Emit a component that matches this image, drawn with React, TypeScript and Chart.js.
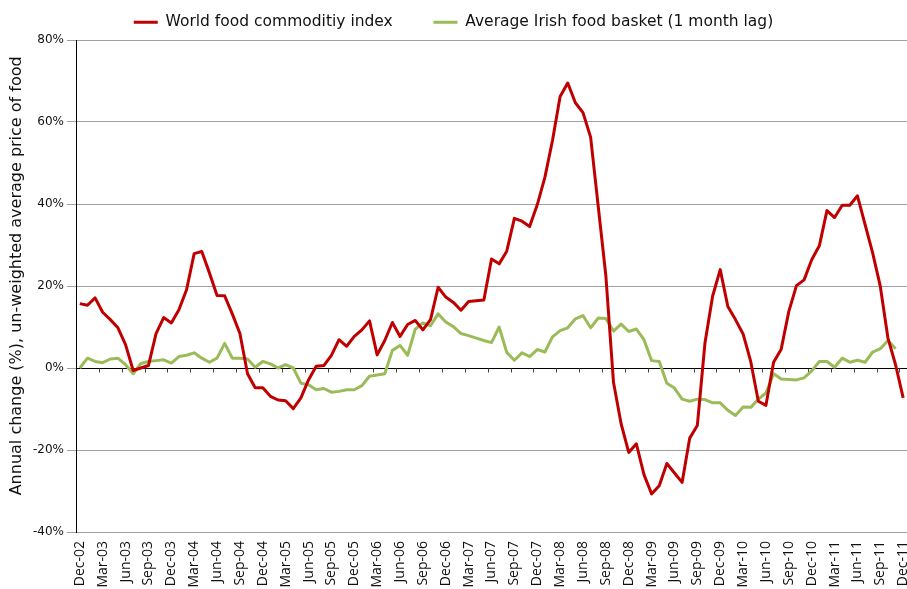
import { useEffect, useRef } from 'react';
import { Chart, registerables } from 'chart.js';

Chart.register(...registerables);

const MONTHS = ['Jan', 'Feb', 'Mar', 'Apr', 'May', 'Jun', 'Jul', 'Aug', 'Sep', 'Oct', 'Nov', 'Dec'];
const START_MONTH = 11; // Dec
const START_YEAR = 2002;
const N_MONTHS = 109; // Dec-02 .. Dec-11

const categories: string[] = [];
for (let i = 0; i < N_MONTHS; i++) {
  const m = (START_MONTH + i) % 12;
  const y = START_YEAR + Math.floor((START_MONTH + i) / 12);
  categories.push(`${MONTHS[m]}-${String(y % 100).padStart(2, '0')}`);
}

const worldFoodIndex: number[] = [
  15.7, 15.3, 17.1, 13.6, 11.8, 9.8, 5.7, -0.6, 0.0, 0.6, 8.4, 12.3,
  11.0, 14.2, 19.1, 27.9, 28.4, 23.2, 17.7, 17.6, 13.2, 8.4, -1.4, -4.8,
  -4.8, -6.9, -7.8, -8.0, -9.9, -7.3, -2.9, 0.4, 0.6, 3.1, 6.9, 5.3,
  7.7, 9.3, 11.5, 3.2, 6.7, 11.1, 7.7, 10.6, 11.6, 9.3, 11.8, 19.7,
  17.3, 16.0, 14.1, 16.2, 16.4, 16.6, 26.6, 25.4, 28.5, 36.5, 35.8, 34.5,
  39.8, 46.5, 55.5, 66.2, 69.5, 64.7, 62.3, 56.3, 39.4, 22.5, -3.5, -13.6,
  -20.6, -18.5, -26.0, -30.7, -28.7, -23.3, -25.6, -27.9, -17.1, -14.0, 6.1, 17.5,
  24.0, 15.0, 11.8, 8.3, 1.6, -8.1, -9.1, 1.4, 4.6, 13.8, 20.1, 21.5,
  26.4, 29.8, 38.4, 36.7, 39.7, 39.7, 42.0, 35.0, 28.0, 19.9, 7.3, 0.8,
  -7.3,
];

const irishFoodBasket: (number | null)[] = [
  0.0, 2.4, 1.6, 1.3, 2.2, 2.4, 0.8, -1.4, 1.1, 1.6, 1.8, 2.0,
  1.2, 2.8, 3.1, 3.7, 2.4, 1.4, 2.4, 6.0, 2.4, 2.4, 2.2, 0.2,
  1.6, 1.0, 0.0, 0.8, 0.0, -3.7, -4.1, -5.3, -5.0, -5.9, -5.7, -5.3,
  -5.3, -4.3, -2.0, -1.7, -1.4, 4.3, 5.5, 3.1, 9.5, 11.0, 10.3, 13.2,
  11.2, 10.1, 8.4, 7.9, 7.3, 6.7, 6.2, 10.0, 3.8, 1.9, 3.7, 2.8,
  4.5, 3.9, 7.6, 9.1, 9.8, 12.0, 12.8, 9.8, 12.2, 12.1, 9.0, 10.7,
  8.9, 9.5, 6.9, 1.8, 1.6, -3.7, -4.9, -7.6, -8.1, -7.6, -7.7, -8.5,
  -8.5, -10.3, -11.6, -9.5, -9.6, -7.6, -6.1, -1.4, -2.7, -2.8, -2.9, -2.4,
  -0.7, 1.6, 1.6, 0.2, 2.4, 1.4, 1.9, 1.4, 3.9, 4.7, 6.7, 4.7,
  null,
];

const SERIES_NAMES = ['World food commoditiy index', 'Average Irish food basket (1 month lag)'];
const Y_TITLE = 'Annual change (%), un-weighted average price of food';
const Y_MIN = -40;
const Y_MAX = 80;
const Y_STEP = 20;
const LABEL_EVERY = 3;

const RED = '#C00000';
const GREEN = '#9BBB59';

const zeroTicksPlugin = {
  id: 'zeroTicks',
  beforeDatasetsDraw(chart: any) {
    const xs = chart.scales.x;
    const ys = chart.scales.y;
    const ctx = chart.ctx;
    const y0 = Math.round(ys.getPixelForValue(0)) + 0.5;
    ctx.save();
    ctx.strokeStyle = '#444';
    ctx.lineWidth = 1;
    ctx.beginPath();
    for (let i = LABEL_EVERY; i < categories.length; i += LABEL_EVERY) {
      const px = Math.round((xs.getPixelForValue(i - 1) + xs.getPixelForValue(i)) / 2) + 0.5;
      ctx.moveTo(px, y0);
      ctx.lineTo(px, y0 + 4);
    }
    ctx.stroke();
    ctx.restore();
  },
};

export default function App() {
  const canvasRef = useRef<HTMLCanvasElement | null>(null);

  useEffect(() => {
    const canvas = canvasRef.current;
    if (!canvas) return;
    const chart = new Chart(canvas, {
      type: 'line',
      data: {
        labels: categories,
        datasets: [
          {
            label: SERIES_NAMES[0],
            data: worldFoodIndex,
            borderColor: RED,
            backgroundColor: RED,
            borderWidth: 3,
            pointRadius: 0,
            tension: 0,
            borderJoinStyle: 'round',
          },
          {
            label: SERIES_NAMES[1],
            data: irishFoodBasket,
            borderColor: GREEN,
            backgroundColor: GREEN,
            borderWidth: 3,
            pointRadius: 0,
            tension: 0,
            borderJoinStyle: 'round',
          },
        ],
      },
      options: {
        animation: false,
        responsive: true,
        maintainAspectRatio: false,
        layout: { padding: { top: -11, right: 0, bottom: 0, left: 0 } },
        plugins: {
          legend: {
            position: 'top',
            align: 'center',
            labels: {
              usePointStyle: true,
              pointStyle: 'line',
              pointStyleWidth: 24,
              color: '#111',
              font: { family: 'DejaVu Sans', size: 15.5 },
              padding: 21,
              generateLabels: (chart: any) => {
                const items = Chart.defaults.plugins.legend.labels.generateLabels(chart);
                return items.map((it: any, idx: number) =>
                  idx === 0 ? { ...it, text: it.text + '    ' } : it
                );
              },
            },
          },
          tooltip: { enabled: false },
        },
        scales: {
          x: {
            type: 'category',
            offset: true,
            grid: { display: false, drawTicks: false },
            border: { display: false },
            ticks: {
              autoSkip: false,
              minRotation: 90,
              maxRotation: 90,
              padding: 9,
              color: '#111',
              font: { family: 'Open Sans', size: 14 },
              callback: (_v: any, i: number) => (i % LABEL_EVERY === 0 ? categories[i] : null),
            },
            afterFit: (scale: any) => {
              scale.height = 57;
              scale.paddingLeft = 0;
              scale.paddingRight = 0;
            },
          },
          y: {
            min: Y_MIN,
            max: Y_MAX,
            ticks: {
              stepSize: Y_STEP,
              padding: 3,
              color: '#111',
              font: { family: 'DejaVu Sans', size: 12 },
              callback: (v: any) => `${v}%`,
            },
            grid: {
              color: (c: any) => (c.tick && c.tick.value === 0 ? '#000' : '#a0a0a0'),
              tickColor: '#a0a0a0',
              tickLength: 9,
              lineWidth: 1,
            },
            border: { display: true, color: '#000', width: 1 },
            title: {
              display: true,
              text: '    ' + Y_TITLE,
              color: '#111',
              font: { family: 'DejaVu Sans', size: 16 },
              padding: { top: 7, bottom: 0 },
            },
            afterFit: (scale: any) => {
              scale.width = 76;
              scale.paddingTop = 40;
            },
          },
        },
      },
      plugins: [zeroTicksPlugin],
    });
    return () => chart.destroy();
  }, []);

  return (
    <div style={{ position: 'absolute', left: 0, top: 0, width: 907, height: 589, background: '#fff' }}>
      <canvas ref={canvasRef} />
    </div>
  );
}
